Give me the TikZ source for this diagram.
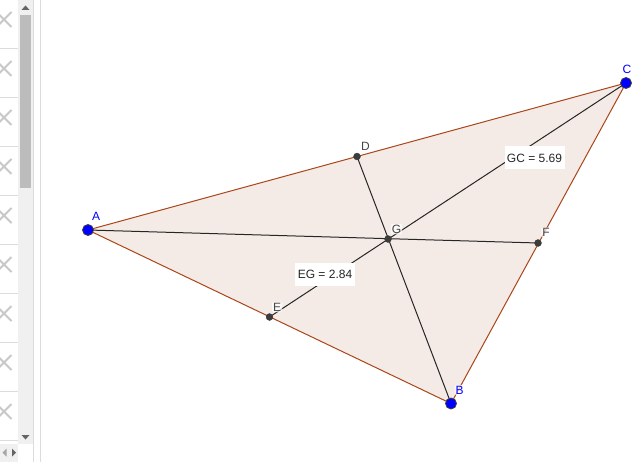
\documentclass[tikz,border=0pt]{standalone}
\usepackage{fontspec}
\setmainfont{Liberation Sans}
\definecolor{edgec}{RGB}{170,70,25}
\definecolor{fillc}{RGB}{244,235,230}
\definecolor{ptblue}{RGB}{0,0,255}
\definecolor{ptdark}{RGB}{60,60,60}
\definecolor{labgrey}{RGB}{70,70,70}
\definecolor{panelline}{RGB}{220,220,220}
\definecolor{barbg}{RGB}{240,240,240}
\definecolor{barthumb}{RGB}{188,188,188}
\definecolor{xmark}{RGB}{200,200,200}
\definecolor{arrowc}{RGB}{100,100,100}
\tikzset{
  x=1pt,y=-1pt,
  freept/.style={circle,fill=ptblue,draw=ptdark,line width=0.8pt,minimum size=11pt,inner sep=0pt},
  deppt/.style={circle,fill=ptdark,draw=ptdark,line width=0.3pt,minimum size=7pt,inner sep=0pt},
  side/.style={draw=edgec,line width=1pt},
  median/.style={draw=black!85,line width=1pt},
  bluelab/.style={text=ptblue,fill=white,fill opacity=0.7,text opacity=1,rounded corners=2pt,font=\fontsize{12}{12}\selectfont,inner sep=1pt},
  greylab/.style={text=labgrey,fill=white,fill opacity=0.7,text opacity=1,rounded corners=2pt,font=\fontsize{12}{12}\selectfont,inner sep=1pt},
  valbox/.style={fill=white,text=black!85,font=\fontsize{12}{12}\selectfont,inner sep=0pt,minimum width=60pt,minimum height=23pt},
  xstroke/.style={draw=xmark,line width=1.8pt},
  rowline/.style={draw=panelline,line width=0.8pt},
}
\newcommand{\xrow}[1]{\draw[xstroke] (-3.5,#1-8) -- (11.5,#1+7) (-3.5,#1+7) -- (11.5,#1-8);}
\begin{document}
\begin{tikzpicture}
\useasboundingbox (0,0) rectangle (636,462);
\fill[white] (0,0) rectangle (636,462);
% side panel
\begin{scope}
\clip (0,0) rectangle (18,444);
\foreach \yy in {20,69,118,167,216,265,314,363,412} {\xrow{\yy}}
\foreach \yy in {48,97,146,195,244,293,342,391,440} {\draw[rowline] (0,\yy) -- (18,\yy);}
\end{scope}
\fill[barbg] (18,0) rectangle (33,444);
\fill[barthumb] (20,15) rectangle (31,188);
\fill[arrowc] (25.5,5.5) -- (29.5,10) -- (21.5,10) -- cycle;
\fill[arrowc] (25.5,439.5) -- (29.5,435) -- (21.5,435) -- cycle;
\fill[barbg] (0,444) rectangle (18,462);
\fill[black!35] (2.5,452.5) -- (6.5,448.5) -- (6.5,456.5) -- cycle;
\fill[arrowc] (16,452.5) -- (12,448.5) -- (12,456.5) -- cycle;
\draw[rowline] (33.5,0) -- (33.5,462);
\draw[rowline] (40,0) -- (40,462);
% construction points
\coordinate (a) at (88,230);
\coordinate (b) at (451,403.5);
\coordinate (c) at (626,83);
\coordinate (d) at (357,156.5);
\coordinate (e) at (269.5,317);
\coordinate (f) at (538,243);
\coordinate (g) at (388,239);
\fill[fillc] (a) -- (b) -- (c) -- cycle;
\draw[side] (a) -- (b);
\draw[side] (b) -- (c);
\draw[side] (c) -- (a);
\draw[median] (a) -- (f);
\draw[median] (b) -- (d);
\draw[median] (c) -- (e);
% value boxes
\node[valbox] (eglab) at (325,274.5) {EG = 2.84};
\node[valbox] (gclab) at (534.5,158) {GC = 5.69};
% labels
\node[bluelab] (la) at (96,216) {A};
\node[bluelab] (lb) at (459.5,390) {B};
\node[bluelab] (lc) at (627,69) {C};
\node[greylab] (ld) at (365.5,146.5) {D};
\node[greylab] (le) at (277,307) {E};
\node[greylab] (lf) at (546,232.5) {F};
\node[greylab] (lg) at (396.5,229) {G};
% points
\node[deppt] (D) at (d) {};
\node[deppt] (E) at (e) {};
\node[deppt] (F) at (f) {};
\node[deppt] (G) at (g) {};
\node[freept] (A) at (a) {};
\node[freept] (B) at (b) {};
\node[freept] (C) at (c) {};
\end{tikzpicture}
\end{document}
